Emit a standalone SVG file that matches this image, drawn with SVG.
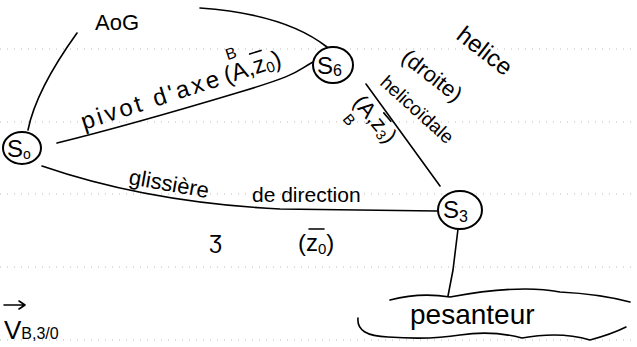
<svg xmlns="http://www.w3.org/2000/svg" width="637" height="347" viewBox="0 0 637 347">
<style>
.ln{fill:none;stroke:#000;stroke-width:1.6;stroke-linecap:round;stroke-linejoin:round}
.nd{fill:#fff;stroke:#000;stroke-width:2}
.t{font-family:"Liberation Sans",Arial,sans-serif;fill:#000}
.rule{stroke:#bbb;stroke-width:1;stroke-dasharray:1 6}
</style>
<rect width="637" height="347" fill="#fff"/>
<g id="rules">
<line class="rule" x1="0" y1="49" x2="637" y2="49"/>
<line class="rule" x1="0" y1="122" x2="637" y2="122"/>
<line class="rule" x1="0" y1="194" x2="637" y2="194"/>
<line class="rule" x1="0" y1="267" x2="637" y2="267"/>
<line class="rule" x1="0" y1="340" x2="637" y2="340"/>
</g>
<g id="connectors">
<path class="ln" d="M28 130 Q36 90 77 33"/>
<path class="ln" d="M200 8 Q285 14 327 47"/>
<path class="ln" d="M57 143 C110 130 180 110 240 92 S295 72 313 62"/>
<path class="ln" d="M42 166 C100 186 180 204 280 209 L437 211"/>
<path class="ln" d="M366 84 L440 186"/>
<path class="ln" d="M458 229 L453 270 L448 296"/>
</g>
<g id="S0">
<ellipse class="nd" cx="22" cy="148" rx="19" ry="16"/>
<text class="t" x="7" y="157" font-size="24">S<tspan font-size="14" dy="2">o</tspan></text>
</g>
<g id="S6">
<ellipse class="nd" cx="333" cy="65" rx="20" ry="18"/>
<text class="t" x="317" y="74" font-size="24">S<tspan font-size="16" dy="2">6</tspan></text>
</g>
<g id="S3">
<ellipse class="nd" cx="460" cy="210" rx="22" ry="19"/>
<text class="t" x="443" y="218" font-size="24">S<tspan font-size="16" dy="4">3</tspan></text>
</g>
<g id="AOG">
<text class="t" x="95" y="30" font-size="22">AoG</text>
</g>
<g id="pesanteur">
<path class="ln" d="M390 300 Q420 292 450 297 Q520 284 560 292 Q600 294 630 302"/>
<path class="ln" d="M358 318 Q356 336 388 337 Q430 340 460 335 Q492 330 522 338 Q560 331 590 340 Q612 334 626 327"/>
<text class="t" x="410" y="324" font-size="28">pesanteur</text>
</g>
<g id="labels">
<g transform="translate(84 130) rotate(-18)">
<text class="t" font-size="24" letter-spacing="3">pivot d'axe</text>
<text class="t" font-size="24" x="150">(A,z<tspan font-size="15" dy="3">0</tspan><tspan dy="-3">)</tspan></text>
<text class="t" font-size="16" x="158" y="-22">B</text>
<line class="ln" x1="181" y1="-21" x2="193" y2="-21"/>
</g>
<text class="t" font-size="22" transform="translate(128 184) rotate(10)">glissière</text>
<text class="t" font-size="21" x="252" y="202">de direction</text>
<text class="t" font-size="24" x="209" y="248">ʒ</text>
<text class="t" font-size="24" x="298" y="251">(z<tspan font-size="15" dy="3">0</tspan><tspan dy="-3">)</tspan></text>
<line class="ln" x1="309" y1="229" x2="324" y2="229"/>
<text class="t" font-size="24" transform="translate(455 38) rotate(38)">helice</text>
<text class="t" font-size="22" transform="translate(400 60) rotate(38)">(droite)</text>
<text class="t" font-size="19" transform="translate(379 84) rotate(42)">helicoïdale</text>
<g transform="translate(352 103) rotate(50)">
<text class="t" font-size="22">(A,z<tspan font-size="14" dy="3">3</tspan><tspan dy="-3">)</tspan></text>
<text class="t" font-size="15" x="6" y="18">B</text>
<line class="ln" x1="28" y1="-18" x2="39" y2="-18"/>
</g>
</g>
<g id="V">
<path class="ln" d="M4 305 L25 305 M19 301 L25 305 L19 309"/>
<text class="t" font-size="26" x="4" y="339">V<tspan font-size="16">B,3/0</tspan></text>
</g>
</svg>
